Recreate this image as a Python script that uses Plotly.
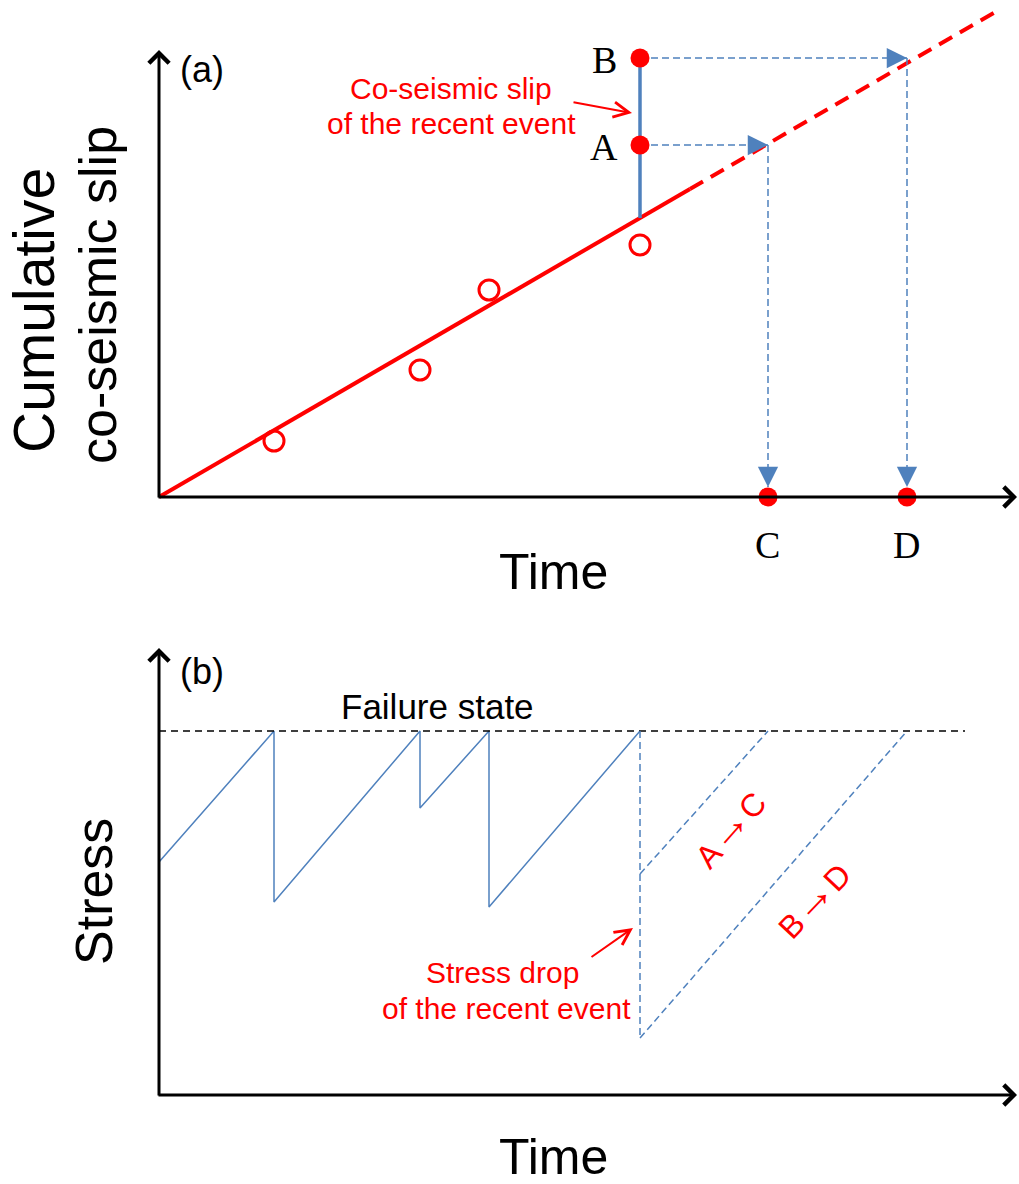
import plotly.graph_objects as go

# ---------------- data ----------------
event_times = [1.15, 2.61, 3.30, 4.81]      # times of the past events
event_slip = [0.56, 1.27, 2.07, 2.52]       # cumulative co-seismic slip of past events
fit_slope = 0.58                            # slip-rate of the fitted line
fit_solid_end = 5.31                        # time where the solid fit line ends
fit_dash_end = 8.36                         # time where the dashed extrapolation ends
slip_A = 3.52
slip_B = 4.39
time_C = 6.09
time_D = 7.48

failure_stress = 3.64
stress_start = 2.33
stress_after = [1.93, 2.87, 1.88]           # stress after events 1-3
stress_after_A = 2.21
stress_after_B = 0.57
failure_line_end = 8.06

axis_top = 4.47
axis_right = 8.58

# ---------------- style ----------------
W, H = 1019, 1184
RED = "#FF0000"
BLUE = "#4F81BD"
SANS = "Liberation Sans, Arial, sans-serif"
SERIF = "Liberation Serif, DejaVu Serif, serif"

fig = go.Figure()

# ======== panel (a) ========
t_last = event_times[-1]
slip_last_base = fit_slope * t_last

# fitted line (solid) and extrapolation (dashed)
fig.add_trace(go.Scatter(x=[0, fit_solid_end], y=[0, fit_slope * fit_solid_end],
                         mode="lines", line=dict(color=RED, width=4),
                         xaxis="x", yaxis="y", hoverinfo="skip"))
fig.add_trace(go.Scatter(x=[fit_solid_end, fit_dash_end],
                         y=[fit_slope * fit_solid_end, fit_slope * fit_dash_end],
                         mode="lines", line=dict(color=RED, width=4, dash="15px,9px"),
                         xaxis="x", yaxis="y", hoverinfo="skip"))

# dashed projection lines
for s_val, t_val in [(slip_A, time_C), (slip_B, time_D)]:
    fig.add_trace(go.Scatter(x=[t_last, t_val], y=[s_val, s_val], mode="lines",
                             line=dict(color=BLUE, width=1.5, dash="7px,4px"),
                             xaxis="x", yaxis="y", hoverinfo="skip"))
    fig.add_trace(go.Scatter(x=[t_val, t_val], y=[s_val, 0.1], mode="lines",
                             line=dict(color=BLUE, width=1.5, dash="7px,4px"),
                             xaxis="x", yaxis="y", hoverinfo="skip"))

# co-seismic slip of recent event
fig.add_trace(go.Scatter(x=[t_last, t_last], y=[slip_last_base, slip_B], mode="lines",
                         line=dict(color=BLUE, width=3.5),
                         xaxis="x", yaxis="y", hoverinfo="skip"))

# past events
fig.add_trace(go.Scatter(x=event_times, y=event_slip, mode="markers",
                         marker=dict(symbol="circle-open", size=20, color=RED,
                                     line=dict(width=3, color=RED)),
                         xaxis="x", yaxis="y", hoverinfo="skip"))
# A, B, C, D points
fig.add_trace(go.Scatter(x=[t_last, t_last, time_C, time_D], y=[slip_A, slip_B, 0, 0],
                         mode="markers", marker=dict(size=19, color=RED),
                         xaxis="x", yaxis="y", hoverinfo="skip"))

# ======== panel (b) ========
saw_x, saw_y = [0], [stress_start]
for i, t in enumerate(event_times[:-1]):
    saw_x += [t, t]
    saw_y += [failure_stress, stress_after[i]]
saw_x.append(t_last)
saw_y.append(failure_stress)
fig.add_trace(go.Scatter(x=saw_x, y=saw_y, mode="lines",
                         line=dict(color=BLUE, width=1.5),
                         xaxis="x2", yaxis="y2", hoverinfo="skip"))

# failure state
fig.add_trace(go.Scatter(x=[0, failure_line_end], y=[failure_stress, failure_stress],
                         mode="lines", line=dict(color="black", width=1.5, dash="7px,5px"),
                         xaxis="x2", yaxis="y2", hoverinfo="skip"))

# recent event stress drop and reloading paths
fig.add_trace(go.Scatter(x=[t_last, t_last], y=[failure_stress, stress_after_B], mode="lines",
                         line=dict(color=BLUE, width=1.5, dash="7px,4px"),
                         xaxis="x2", yaxis="y2", hoverinfo="skip"))
fig.add_trace(go.Scatter(x=[t_last, time_C], y=[stress_after_A, failure_stress], mode="lines",
                         line=dict(color=BLUE, width=1.5, dash="7px,4px"),
                         xaxis="x2", yaxis="y2", hoverinfo="skip"))
fig.add_trace(go.Scatter(x=[t_last, time_D], y=[stress_after_B, failure_stress], mode="lines",
                         line=dict(color=BLUE, width=1.5, dash="7px,4px"),
                         xaxis="x2", yaxis="y2", hoverinfo="skip"))


# ---------------- annotations ----------------
def arrow(x, y, ax, ay, panel, color, width, head, size):
    xr, yr = ("x", "y") if panel == "a" else ("x2", "y2")
    fig.add_annotation(x=x, y=y, ax=ax, ay=ay, xref=xr, yref=yr, axref=xr, ayref=yr,
                       text="", showarrow=True, arrowhead=head, arrowwidth=width,
                       arrowsize=size, arrowcolor=color, standoff=0)


def txt(text, x, y, size, color="black", family=SANS, angle=0):
    fig.add_annotation(text=text, x=x / W, y=1 - y / H, xref="paper", yref="paper",
                       showarrow=False, textangle=angle, xanchor="center", yanchor="middle",
                       font=dict(size=size, color=color, family=family))


# axes arrows
for p in ["a", "b"]:
    arrow(0, axis_top, 0, -0.02, p, "black", 3, 4, 1.3)
    arrow(axis_right, 0, -0.02, 0, p, "black", 3, 4, 1.3)

# blue arrowheads
arrow(time_C, slip_A, time_C - 0.18, slip_A, "a", BLUE, 1.5, 2, 2.7)
arrow(time_D, slip_B, time_D - 0.18, slip_B, "a", BLUE, 1.5, 2, 2.7)
arrow(time_C, 0.1, time_C, 0.28, "a", BLUE, 1.5, 2, 2.7)
arrow(time_D, 0.1, time_D, 0.28, "a", BLUE, 1.5, 2, 2.7)

# red pointer arrows
arrow(4.73, 3.84, 4.13, 3.95, "a", RED, 2, 5, 1.5)
arrow(4.74, 1.67, 4.31, 1.37, "b", RED, 2, 5, 1.5)

# texts panel (a)
txt("(a)", 202, 70, 36)
txt("Co-seismic slip", 451, 88, 30, RED)
txt("of the recent event", 451, 124, 30, RED)
txt("B", 604, 60, 38, family=SERIF)
txt("A", 604, 147, 38, family=SERIF)
txt("C", 767, 545, 38, family=SERIF)
txt("D", 906, 545, 38, family=SERIF)
txt("Time", 553, 572, 50)
txt("Cumulative", 34, 311, 57, angle=-90)
txt("co-seismic slip", 98, 295, 52, angle=-90)

# texts panel (b)
ARR = "<span style='font-size:44px'>→</span>"
txt("(b)", 202, 671, 36)
txt("Failure state", 437, 706, 35)
txt("A" + ARR + "C", 727, 827, 32, RED, angle=-48.6)
txt("B" + ARR + "D", 811, 898, 32, RED, angle=-46.4)
txt("Stress drop", 502, 972, 30, RED)
txt("of the recent event", 506, 1008, 30, RED)
txt("Stress", 94, 892, 52, angle=-90)
txt("Time", 553, 1157, 50)

xr = [-1.59, 8.60]
fig.update_layout(
    width=W, height=H, margin=dict(l=0, r=0, t=0, b=0),
    paper_bgcolor="white", plot_bgcolor="white", showlegend=False,
    xaxis=dict(domain=[0, 1], range=xr, visible=False, anchor="y", fixedrange=True),
    yaxis=dict(domain=[0.5, 1], range=[-0.95, 4.97], visible=False, anchor="x", fixedrange=True),
    xaxis2=dict(domain=[0, 1], range=xr, visible=False, anchor="y2", fixedrange=True),
    yaxis2=dict(domain=[0, 0.5], range=[-0.89, 5.03], visible=False, anchor="x2", fixedrange=True),
)

fig.write_html("out.html")
